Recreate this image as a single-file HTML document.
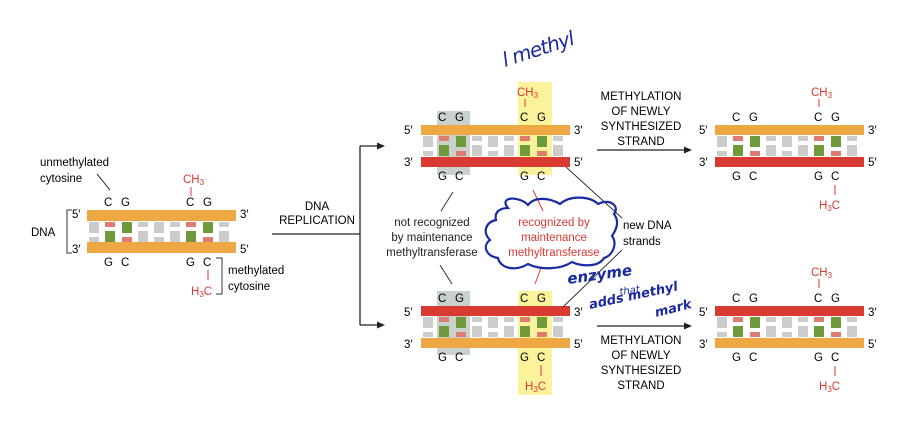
<!DOCTYPE html>
<html><head><meta charset="utf-8"><style>
body{margin:0;background:#fff}
svg{display:block;font-family:"Liberation Sans",sans-serif;font-size:11.5px}
.r{fill:#d93a32}
</style></head><body>
<svg width="910" height="424" viewBox="0 0 910 424" xmlns="http://www.w3.org/2000/svg">
<defs>
<g id="bp">
<rect x="2" y="1" width="10" height="11" fill="#cccccc"/><rect x="2" y="16" width="10" height="5" fill="#cccccc"/>
<rect x="18" y="1" width="10" height="5" fill="#e07b6f"/><rect x="18" y="10" width="10" height="11" fill="#6e9a3c"/>
<rect x="35" y="1" width="10" height="11" fill="#6e9a3c"/><rect x="35" y="16" width="10" height="5" fill="#e07b6f"/>
<rect x="51" y="1" width="10" height="5" fill="#cccccc"/><rect x="51" y="10" width="10" height="11" fill="#cccccc"/>
<rect x="67" y="1" width="10" height="11" fill="#cccccc"/><rect x="67" y="16" width="10" height="5" fill="#cccccc"/>
<rect x="83" y="1" width="10" height="5" fill="#cccccc"/><rect x="83" y="10" width="10" height="11" fill="#cccccc"/>
<rect x="99" y="1" width="10" height="5" fill="#e07b6f"/><rect x="99" y="10" width="10" height="11" fill="#6e9a3c"/>
<rect x="116" y="1" width="10" height="11" fill="#6e9a3c"/><rect x="116" y="16" width="10" height="5" fill="#e07b6f"/>
<rect x="132" y="1" width="10" height="5" fill="#cccccc"/><rect x="132" y="10" width="10" height="11" fill="#cccccc"/>
</g>
</defs>

<!-- highlight boxes -->
<rect x="437" y="111" width="33" height="64" fill="#c9d1cd"/>
<rect x="518" y="82" width="34" height="93" fill="#fbf39b"/>
<rect x="437" y="291" width="33" height="64" fill="#c9d1cd"/>
<rect x="518" y="291" width="34" height="104" fill="#fbf39b"/>

<!-- LEFT DNA -->
<rect x="87" y="210" width="149" height="11" fill="#eea843"/>
<rect x="87" y="242" width="149" height="11" fill="#eea843"/>
<use href="#bp" x="87" y="221"/>
<text x="104" y="206">C</text><text x="121" y="206">G</text>
<text x="186" y="206">C</text><text x="203" y="206">G</text>
<text x="104" y="266">G</text><text x="121" y="266">C</text>
<text x="186" y="266">G</text><text x="203" y="266">C</text>
<text class="r" x="183" y="183">CH<tspan font-size="8" dy="2">3</tspan></text>
<line x1="191" y1="187" x2="191" y2="196" stroke="#d93a32"/>
<line x1="208" y1="270" x2="208" y2="280" stroke="#d93a32"/>
<text class="r" x="191" y="295">H<tspan font-size="8" dy="2">3</tspan><tspan dy="-2">C</tspan></text>
<text x="40" y="166">unmethylated</text><text x="40" y="182">cytosine</text>
<line x1="97" y1="174" x2="110" y2="190" stroke="#333"/>
<text x="31" y="236">DNA</text>
<path d="M72 210H67V253H72" fill="none" stroke="#333"/>
<text x="72" y="218">5′</text><text x="72" y="253">3′</text>
<text x="240" y="218">3′</text><text x="240" y="253">5′</text>
<path d="M216 258H222V294H216" fill="none" stroke="#333"/>
<text x="228" y="274">methylated</text><text x="228" y="290">cytosine</text>

<!-- replication arrows -->
<text x="317" y="210" text-anchor="middle">DNA</text>
<text x="317" y="224" text-anchor="middle">REPLICATION</text>
<line x1="272" y1="234" x2="360" y2="234" stroke="#222" stroke-width="1.3"/>
<path d="M360 146V325" stroke="#222" stroke-width="1.3" fill="none"/>
<path d="M360 146H378M360 325H378" stroke="#222" stroke-width="1.3"/>
<path d="M385 146l-8-3.5v7z M385 325l-8-3.5v7z" fill="#222"/>

<!-- MIDDLE TOP -->
<rect x="421" y="125" width="149" height="10" fill="#eea843"/>
<rect x="421" y="157" width="149" height="10" fill="#d93a32"/>
<use href="#bp" x="421" y="135"/>
<text x="438" y="121">C</text><text x="455" y="121">G</text>
<text x="520" y="121">C</text><text x="537" y="121">G</text>
<text x="438" y="180">G</text><text x="455" y="180">C</text>
<text x="520" y="180">G</text><text x="537" y="180">C</text>
<text class="r" x="517" y="96">CH<tspan font-size="8" dy="2">3</tspan></text>
<line x1="525" y1="99" x2="525" y2="107" stroke="#d93a32"/>
<text x="404" y="134">5′</text><text x="574" y="134">3′</text>
<text x="404" y="166">3′</text><text x="574" y="166">5′</text>

<!-- MIDDLE BOTTOM -->
<rect x="421" y="306" width="149" height="10" fill="#d93a32"/>
<rect x="421" y="338" width="149" height="10" fill="#eea843"/>
<use href="#bp" x="421" y="316"/>
<text x="438" y="302">C</text><text x="455" y="302">G</text>
<text x="520" y="302">C</text><text x="537" y="302">G</text>
<text x="438" y="361">G</text><text x="455" y="361">C</text>
<text x="520" y="361">G</text><text x="537" y="361">C</text>
<line x1="541" y1="365" x2="541" y2="376" stroke="#d93a32"/>
<text class="r" x="525" y="390">H<tspan font-size="8" dy="2">3</tspan><tspan dy="-2">C</tspan></text>
<text x="404" y="316">5′</text><text x="574" y="316">3′</text>
<text x="404" y="348">3′</text><text x="574" y="348">5′</text>

<!-- labels middle -->
<text x="432" y="226" text-anchor="middle" fill="#222">not recognized</text>
<text x="432" y="241" text-anchor="middle" fill="#222">by maintenance</text>
<text x="432" y="256" text-anchor="middle" fill="#222">methyltransferase</text>
<line x1="453" y1="192" x2="441" y2="211" stroke="#333"/>
<line x1="440" y1="265" x2="452" y2="284" stroke="#333"/>
<text class="r" x="554" y="226" text-anchor="middle">recognized by</text>
<text class="r" x="554" y="241" text-anchor="middle">maintenance</text>
<text class="r" x="554" y="256" text-anchor="middle">methyltransferase</text>
<line x1="533" y1="190" x2="543" y2="211" stroke="#d93a32"/>
<line x1="541" y1="268" x2="535" y2="284" stroke="#d93a32"/>
<text x="623" y="229">new DNA</text><text x="623" y="245">strands</text>
<line x1="566" y1="167" x2="622" y2="218" stroke="#333"/>
<line x1="622" y1="250" x2="563" y2="307" stroke="#333"/>

<!-- cloud -->
<path d="M508 208 C498 196 520 196 528 205 C535 196 550 198 560 204 C570 195 590 196 598 204 C610 198 620 206 614 214 C620 222 616 230 612 236 C618 244 612 256 604 258 C598 268 580 266 572 262 C560 270 540 270 528 264 C515 272 500 268 498 258 C486 256 482 246 490 240 C482 232 486 222 496 220 C494 212 500 208 508 208Z" fill="none" stroke="#1a2aa0" stroke-width="2.2"/>

<!-- handwriting -->
<text x="505" y="67" transform="rotate(-18 505 67)" font-family="'DejaVu Sans',sans-serif" font-style="italic" font-size="20" fill="#1a2aa0" letter-spacing="-1">l methyl</text>
<text x="568" y="284" transform="rotate(-8 568 284)" font-family="'DejaVu Sans',sans-serif" font-style="italic" font-weight="bold" font-size="15" fill="#1a2aa0">enzyme</text>
<text x="620" y="295" transform="rotate(-8 620 295)" font-family="'DejaVu Sans',sans-serif" font-style="italic" font-size="10" fill="#1a2aa0">that</text>
<text x="590" y="309" transform="rotate(-12 590 309)" font-family="'DejaVu Sans',sans-serif" font-style="italic" font-weight="bold" font-size="13" fill="#1a2aa0">adds methyl</text>
<text x="656" y="317" transform="rotate(-14 656 317)" font-family="'DejaVu Sans',sans-serif" font-style="italic" font-weight="bold" font-size="13" fill="#1a2aa0">mark</text>

<!-- methylation arrows -->
<text x="641" y="100" text-anchor="middle">METHYLATION</text>
<text x="641" y="115" text-anchor="middle">OF NEWLY</text>
<text x="641" y="130" text-anchor="middle">SYNTHESIZED</text>
<text x="641" y="145" text-anchor="middle">STRAND</text>
<line x1="597" y1="150" x2="684" y2="150" stroke="#222" stroke-width="1.3"/>
<path d="M692 150l-8-3.5v7z" fill="#222"/>
<line x1="597" y1="326" x2="684" y2="326" stroke="#222" stroke-width="1.3"/>
<path d="M692 326l-8-3.5v7z" fill="#222"/>
<text x="641" y="344" text-anchor="middle">METHYLATION</text>
<text x="641" y="359" text-anchor="middle">OF NEWLY</text>
<text x="641" y="374" text-anchor="middle">SYNTHESIZED</text>
<text x="641" y="389" text-anchor="middle">STRAND</text>

<!-- RIGHT TOP -->
<rect x="715" y="125" width="149" height="10" fill="#eea843"/>
<rect x="715" y="157" width="149" height="10" fill="#d93a32"/>
<use href="#bp" x="715" y="135"/>
<text x="732" y="121">C</text><text x="749" y="121">G</text>
<text x="814" y="121">C</text><text x="831" y="121">G</text>
<text x="732" y="180">G</text><text x="749" y="180">C</text>
<text x="814" y="180">G</text><text x="831" y="180">C</text>
<text class="r" x="811" y="96">CH<tspan font-size="8" dy="2">3</tspan></text>
<line x1="819" y1="99" x2="819" y2="107" stroke="#d93a32"/>
<line x1="835" y1="185" x2="835" y2="195" stroke="#d93a32"/>
<text class="r" x="819" y="209">H<tspan font-size="8" dy="2">3</tspan><tspan dy="-2">C</tspan></text>
<text x="699" y="134">5′</text><text x="868" y="134">3′</text>
<text x="699" y="166">3′</text><text x="868" y="166">5′</text>

<!-- RIGHT BOTTOM -->
<rect x="715" y="306" width="149" height="10" fill="#d93a32"/>
<rect x="715" y="338" width="149" height="10" fill="#eea843"/>
<use href="#bp" x="715" y="316"/>
<text x="732" y="302">C</text><text x="749" y="302">G</text>
<text x="814" y="302">C</text><text x="831" y="302">G</text>
<text x="732" y="361">G</text><text x="749" y="361">C</text>
<text x="814" y="361">G</text><text x="831" y="361">C</text>
<text class="r" x="811" y="276">CH<tspan font-size="8" dy="2">3</tspan></text>
<line x1="819" y1="279" x2="819" y2="288" stroke="#d93a32"/>
<line x1="835" y1="366" x2="835" y2="376" stroke="#d93a32"/>
<text class="r" x="819" y="390">H<tspan font-size="8" dy="2">3</tspan><tspan dy="-2">C</tspan></text>
<text x="699" y="316">5′</text><text x="868" y="316">3′</text>
<text x="699" y="348">3′</text><text x="868" y="348">5′</text>
</svg>
</body></html>
